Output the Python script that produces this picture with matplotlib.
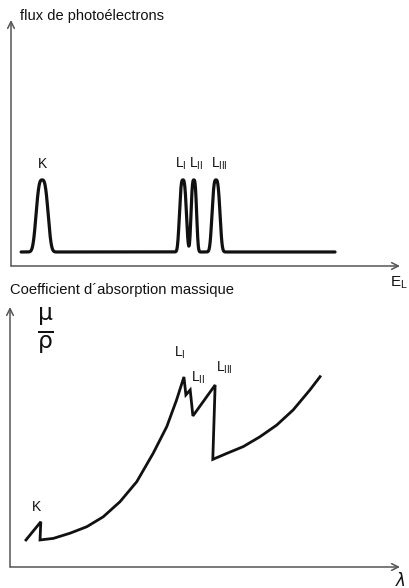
import numpy as np
import matplotlib as mpl
import matplotlib.pyplot as plt

mpl.rcParams['font.family'] = ['Liberation Sans', 'DejaVu Sans']

# --- top panel: photoelectron flux vs energy (arbitrary units 0-100)
base_start = 2.6
base_end = 83.3
base_level = 5.7
peak_names = ['K', r'L$_\mathregular{I}$', r'L$_\mathregular{II}$', r'L$_\mathregular{III}$']
peak_pos = [8.0, 44.2, 47.0, 52.7]
peak_height = [29.3, 29.3, 29.3, 29.3]
peak_width = [1.8, 1.05, 0.85, 1.2]
peak_label_x = [8.0, 43.6, 47.7, 53.5]
peak_label_y = [41.5, 41.5, 41.5, 41.5]

# --- bottom panel: mass absorption coefficient vs wavelength
lam = [4.1, 7.9, 7.7, 11.1, 15.4, 19.7, 23.9, 28.2, 32.5, 36.7, 40.2, 42.7, 44.6,
       45.1, 46.2, 46.9, 52.6, 52.0, 55.6, 59.8, 64.1, 68.4, 72.6, 76.9, 79.5]
mu_rho = [10.4, 17.4, 10.4, 11.0, 13.0, 15.5, 19.3, 25.1, 32.8, 43.7, 54.0, 64.2, 73.1,
          66.2, 68.1, 58.1, 70.0, 41.4, 43.7, 46.3, 50.1, 54.6, 60.4, 68.1, 73.2]
edge_names = ['K', r'L$_\mathregular{I}$', r'L$_\mathregular{II}$', r'L$_\mathregular{III}$']
edge_label_x = [6.9, 43.6, 48.2, 54.9]
edge_label_y = [23.1, 82.3, 72.7, 76.5]

ink = '#111111'
axis_col = '#555555'

fig = plt.figure(figsize=[4.09, 5.88], dpi=100)

# top axes
ax1 = fig.add_axes([11/409, 1-266/588, 389/409, 246/588])
x = np.linspace(base_start, base_end, 3000)
flux = np.full_like(x, base_level)
for c, h, w in zip(peak_pos, peak_height, peak_width):
    flux += h*np.exp(-np.abs((x-c)/w)**3)
ax1.plot(x, flux, color=ink, linewidth=2.3, solid_capstyle='round')
for name, lx, ly in zip(peak_names, peak_label_x, peak_label_y):
    ax1.text(lx, ly, name, ha='center', va='center', fontsize=10, color=ink)

# bottom axes
ax2 = fig.add_axes([10/409, 1-567/588, 390/409, 260/588])
ax2.plot(lam, mu_rho, color=ink, linewidth=2.0, solid_joinstyle='miter')
for name, lx, ly in zip(edge_names, edge_label_x, edge_label_y):
    ax2.text(lx, ly, name, ha='center', va='center', fontsize=10, color=ink)
ax2.text(9.2, 90.4, r'$\frac{\mathrm{\mu}}{\mathrm{\rho}}$', ha='center', va='center',
         fontsize=24, color=ink)

# axes drawn as arrows
for ax in [ax1, ax2]:
    ax.set_xlim(0, 100)
    ax.set_ylim(0, 100)
    ax.axis('off')
    ax.annotate('', xy=(0, 1), xytext=(0, 0), xycoords='axes fraction',
                arrowprops=dict(arrowstyle='->', color=axis_col, lw=1.1,
                                shrinkA=0, shrinkB=0, mutation_scale=12))
    ax.annotate('', xy=(1, 0), xytext=(0, 0), xycoords='axes fraction',
                arrowprops=dict(arrowstyle='->', color=axis_col, lw=1.1,
                                shrinkA=0, shrinkB=0, mutation_scale=12))

# texts
fig.text(20/409, 1-16/588, 'flux de photoélectrons', ha='left', va='center', fontsize=10.5, color=ink)
fig.text(10/409, 1-290/588, 'Coefficient d´absorption massique', ha='left', va='center', fontsize=10.6, color=ink)
fig.text(390/409, 1-283/588, r'E$_\mathregular{L}$', ha='left', va='center', fontsize=11, color=ink)
fig.text(395/409, 1-580/588, r'$\lambda$', ha='left', va='center', fontsize=12, color=ink)

plt.savefig('out.png', dpi=100)
plt.close('all')
